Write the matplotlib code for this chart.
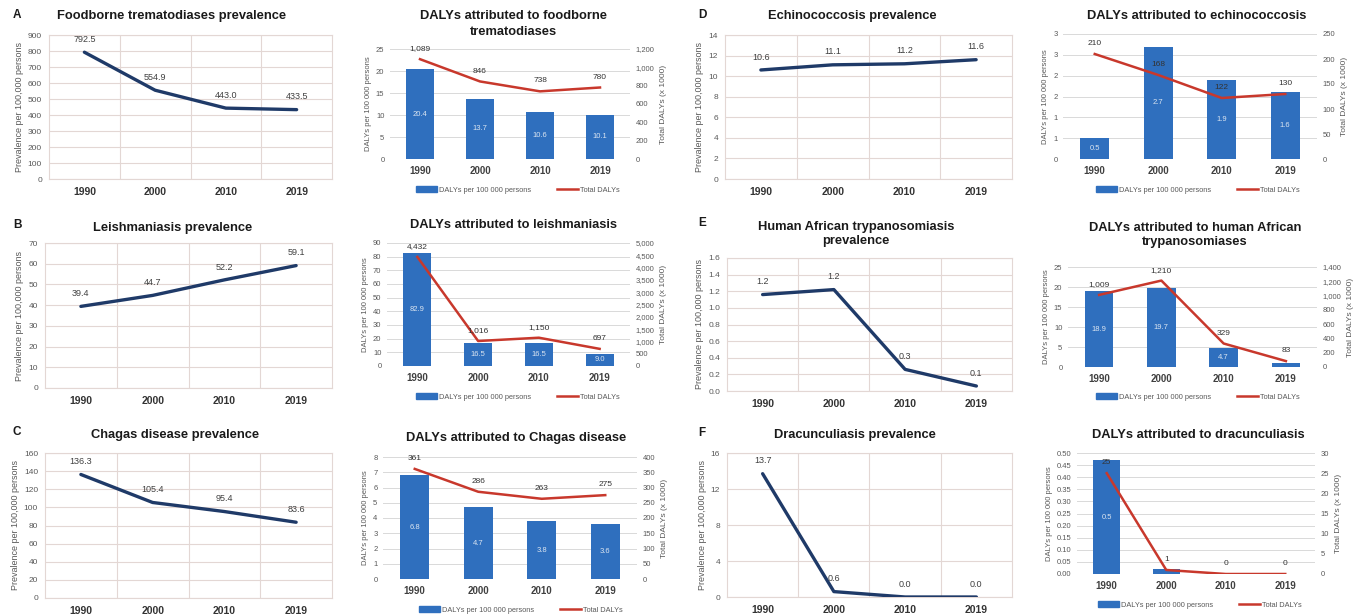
import numpy as np
import matplotlib.pyplot as plt
from matplotlib.ticker import FuncFormatter
from matplotlib.patches import Patch
from matplotlib.lines import Line2D

plt.rcParams['font.family'] = ['Liberation Sans', 'DejaVu Sans']

W, H = 1355, 616

years = ['1990', '2000', '2010', '2019']

# prevalence per 100,000 persons
prev_ftd = [792.5, 554.9, 443.0, 433.5]
prev_leish = [39.4, 44.7, 52.2, 59.1]
prev_chagas = [136.3, 105.4, 95.4, 83.6]
prev_echino = [10.6, 11.1, 11.2, 11.6]
prev_hat = [1.16, 1.22, 0.26, 0.06]
prev_drac = [13.7, 0.6, 0.0, 0.0]

# DALYs per 100 000 persons (bars) and total DALYs x 1000 (line)
rate_ftd = [20.4, 13.7, 10.6, 10.1]
total_ftd = [1089, 846, 738, 780]
rate_leish = [82.9, 16.5, 16.5, 9.0]
total_leish = [4432, 1016, 1150, 697]
rate_chagas = [6.8, 4.7, 3.8, 3.6]
total_chagas = [361, 286, 263, 275]
rate_echino = [0.5, 2.7, 1.9, 1.6]
total_echino = [210, 168, 122, 130]
rate_hat = [18.9, 19.7, 4.7, 1.1]
total_hat = [1009, 1210, 329, 83]
rate_drac = [0.47, 0.02, 0.0, 0.0]
total_drac = [25, 1, 0, 0]

navy = '#1f3a68'
blue = '#2f6fbe'
red = '#c8382c'
gridc = '#e3d7d4'
dgrid = '#d9d9d9'
tickc = '#595959'

fig = plt.figure(figsize=(W / 100, H / 100), dpi=100)


def rect(l, t, r, b):
    return [l / W, 1 - b / H, (r - l) / W, (b - t) / H]


def ftext(x, y, s, **kw):
    fig.text(x / W, 1 - y / H, s, **kw)


def half_up(v, pos):
    return '%d' % int(np.floor(v + 0.5))


def prevalence(r, vals, ymax, step, tfmt):
    ax = fig.add_axes(rect(*r))
    x = np.arange(len(years))
    ax.plot(x, vals, color=navy, lw=2.4, solid_capstyle='round', zorder=3)
    for xi, v in zip(x, vals):
        ax.annotate('%.1f' % v, (xi, v), xytext=(0, 6), textcoords='offset points',
                    ha='center', va='bottom', fontsize=6.5, color='#404040')
    ax.set_xlim(-0.5, 3.5)
    ax.set_ylim(0, ymax)
    ax.set_yticks(np.arange(0, ymax + step / 2, step))
    ax.yaxis.set_major_formatter(FuncFormatter(lambda v, p: tfmt % v))
    ax.set_xticks(x)
    ax.set_xticklabels(years, fontweight='bold', fontsize=7.5, color='#333333')
    ax.set_xticks([0.5, 1.5, 2.5], minor=True)
    ax.grid(True, which='major', axis='y', color=gridc, lw=0.8)
    ax.grid(True, which='minor', axis='x', color=gridc, lw=0.8)
    ax.tick_params(which='both', length=0)
    ax.tick_params(axis='y', labelsize=6, colors=tickc, pad=5)
    ax.tick_params(axis='x', pad=6)
    for s in ax.spines.values():
        s.set_color(gridc)
        s.set_linewidth(0.8)
    ax.set_ylabel('Prevalence per 100,000 persons', fontsize=6.5, color=tickc, labelpad=3)
    return ax


def dalys(r, rate, total, lmax, lstep, rmax, rstep, lfmt, legxy):
    ax = fig.add_axes(rect(*r))
    x = np.arange(len(years))
    ax.bar(x, rate, width=0.46, color=blue, zorder=2)
    for xi, v in zip(x, rate):
        if v >= 0.08 * lmax:
            ax.text(xi, v / 2, '%.1f' % v, ha='center', va='center', fontsize=5.5, color='#dbe5f1')
    ax.set_xlim(-0.5, 3.5)
    ax.set_ylim(0, lmax)
    ax.set_yticks(np.arange(0, lmax + lstep / 2, lstep))
    ax.yaxis.set_major_formatter(FuncFormatter(lfmt))
    ax.set_xticks(x)
    ax.set_xticklabels(years, fontweight='bold', fontsize=7, color='#404040')
    ax.grid(True, axis='y', color=dgrid, lw=0.7, zorder=0)
    ax.set_axisbelow(True)
    ax.tick_params(length=0)
    ax.tick_params(axis='y', labelsize=5.5, colors=tickc, pad=4)
    ax.tick_params(axis='x', pad=5)
    for s in ax.spines.values():
        s.set_visible(False)
    ax.set_ylabel('DALYs per 100 000 persons', fontsize=5.5, color=tickc, labelpad=3)

    ax2 = ax.twinx()
    ax2.plot(x, total, color=red, lw=1.8, zorder=3)
    for xi, v in zip(x, total):
        ax2.annotate('{:,.0f}'.format(v), (xi, v), xytext=(0, 5), textcoords='offset points',
                     ha='center', va='bottom', fontsize=6, color='#333333')
    ax2.set_ylim(0, rmax)
    ax2.set_yticks(np.arange(0, rmax + rstep / 2, rstep))
    ax2.yaxis.set_major_formatter(FuncFormatter(lambda v, p: '{:,.0f}'.format(v)))
    ax2.tick_params(length=0, labelsize=5.5, colors=tickc, pad=4)
    for s in ax2.spines.values():
        s.set_visible(False)
    ax2.set_ylabel('Total DALYs (x 1000)', fontsize=6, color=tickc, labelpad=4)

    handles = [Patch(color=blue), Line2D([], [], color=red, lw=1.8)]
    ax.legend(handles, ['DALYs per 100 000 persons', 'Total DALYs'], loc='center',
              bbox_to_anchor=(legxy[0] / W, 1 - legxy[1] / H), bbox_transform=fig.transFigure,
              ncol=2, frameon=False, fontsize=5.3, handlelength=2.8, handleheight=0.8,
              handletextpad=0.3, columnspacing=3.5, labelcolor=tickc)
    return ax


intf = lambda v, p: '%d' % v
dec2 = lambda v, p: '%.2f' % v

# left column pair
prevalence((49, 35, 332, 179), prev_ftd, 900, 100, '%d')
prevalence((45, 243, 332, 388), prev_leish, 70, 10, '%d')
prevalence((45, 453, 332, 598), prev_chagas, 160, 20, '%d')
dalys((390, 49, 630, 159), rate_ftd, total_ftd, 25, 5, 1200, 200, intf, (518, 190))
dalys((387, 243, 630, 366), rate_leish, total_leish, 90, 10, 5000, 500, intf, (518, 397))
dalys((383, 457, 637, 579), rate_chagas, total_chagas, 8, 1, 400, 50, intf, (521, 610))

# right column pair
prevalence((725, 35, 1012, 179), prev_echino, 14, 2, '%d')
prevalence((727, 258, 1012, 391), prev_hat, 1.6, 0.2, '%.1f')
prevalence((727, 453, 1012, 597), prev_drac, 16, 4, '%d')
dalys((1063, 34, 1317, 159), rate_echino, total_echino, 3, 0.5, 250, 50, half_up, (1198, 190))
dalys((1068, 267, 1317, 367), rate_hat, total_hat, 25, 5, 1400, 200, intf, (1198, 397))
dalys((1077, 453, 1315, 574), rate_drac, total_drac, 0.5, 0.05, 30, 5, dec2, (1200, 605))

tkw = dict(ha='center', va='center', fontsize=9.3, fontweight='bold', color='#1a1a1a')
ftext(172, 16, 'Foodborne trematodiases prevalence', **tkw)
ftext(173, 228, 'Leishmaniasis prevalence', **tkw)
ftext(175, 435, 'Chagas disease prevalence', **tkw)
ftext(513, 24, 'DALYs attributed to foodborne\ntrematodiases', linespacing=1.35, **tkw)
ftext(513, 225, 'DALYs attributed to leishmaniasis', **tkw)
ftext(516, 438, 'DALYs attributed to Chagas disease', **tkw)
ftext(852, 16, 'Echinococcosis prevalence', **tkw)
ftext(856, 234, 'Human African trypanosomiasis\nprevalence', linespacing=1.2, **tkw)
ftext(855, 435, 'Dracunculiasis prevalence', **tkw)
ftext(1197, 16, 'DALYs attributed to echinococcosis', **tkw)
ftext(1195, 235, 'DALYs attributed to human African\ntrypanosomiases', linespacing=1.2, **tkw)
ftext(1198, 435, 'DALYs attributed to dracunculiasis', **tkw)

lkw = dict(ha='center', va='center', fontsize=8.5, fontweight='bold', color='#1a1a1a')
for lx, ly, s in [(17, 15, 'A'), (17, 225, 'B'), (17, 432, 'C'),
                  (702, 15, 'D'), (702, 223, 'E'), (702, 433, 'F')]:
    ftext(lx, ly, s, **lkw)

fig.savefig('out.png', dpi=100)
